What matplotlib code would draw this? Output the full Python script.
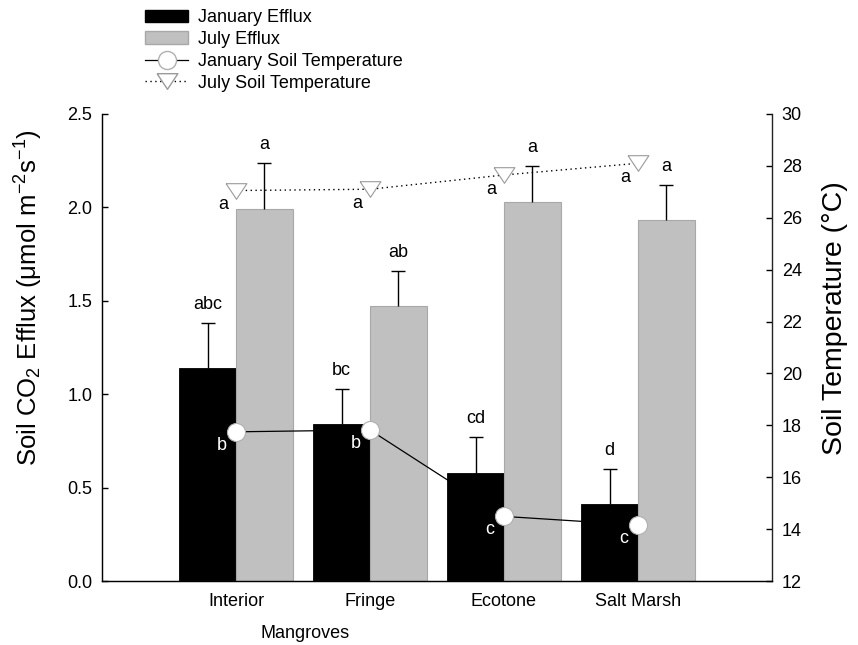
import numpy as np
import matplotlib
matplotlib.use('Agg')
import matplotlib.pyplot as plt
from matplotlib.patches import Patch
from matplotlib.lines import Line2D

plt.rcParams['font.family'] = ['Liberation Sans', 'DejaVu Sans']
plt.rcParams['mathtext.default'] = 'regular'
plt.rcParams['font.size'] = 13

sites = ['Interior', 'Fringe', 'Ecotone', 'Salt Marsh']
jan_efflux = [1.14, 0.84, 0.58, 0.41]
jan_err = [0.24, 0.19, 0.19, 0.19]
jul_efflux = [1.99, 1.47, 2.03, 1.93]
jul_err = [0.25, 0.19, 0.19, 0.19]
jan_temp = [17.75, 17.82, 14.49, 14.16]
jul_temp = [27.05, 27.1, 27.65, 28.1]
jan_letters = ['abc', 'bc', 'cd', 'd']
jul_letters = ['a', 'ab', 'a', 'a']
jan_temp_letters = ['b', 'b', 'c', 'c']
jul_temp_letters = ['a', 'a', 'a', 'a']

gray = '#c0c0c0'
x = np.arange(len(sites))
w = 0.425

fig = plt.figure(figsize=(8.58, 6.45), dpi=100)
ax = fig.add_axes([102/858, 64/645, 670/858, 467/645])

ax.bar(x - w/2, jan_efflux, w, color='black', edgecolor='black', linewidth=0.6, zorder=2)
ax.bar(x + w/2, jul_efflux, w, color=gray, edgecolor='#a8a8a8', linewidth=0.8, zorder=2)
for xs, vals, errs in [(x - w/2, jan_efflux, jan_err), (x + w/2, jul_efflux, jul_err)]:
    eb = ax.errorbar(xs, vals, yerr=[np.zeros(4), errs], fmt='none',
                     ecolor='black', elinewidth=1, capsize=5, capthick=1, zorder=3)
    eb[1][0].set_visible(False)  # no cap at bar top

for i in range(len(sites)):
    ax.annotate(jan_letters[i], (x[i] - w/2, jan_efflux[i] + jan_err[i]),
                xytext=(0, 10), textcoords='offset points', ha='center', va='baseline')
    ax.annotate(jul_letters[i], (x[i] + w/2, jul_efflux[i] + jul_err[i]),
                xytext=(0, 10), textcoords='offset points', ha='center', va='baseline')

ax.set_xlim(-1, 4)
ax.set_ylim(0, 2.5)
ax.set_yticks([0, 0.5, 1.0, 1.5, 2.0, 2.5])
ax.set_yticklabels(['0.0', '0.5', '1.0', '1.5', '2.0', '2.5'])
ax.set_xticks(x)
ax.set_xticklabels(sites)
ax.tick_params(axis='x', length=0, pad=9)
ax.tick_params(axis='y', direction='in', length=4.5, width=1, pad=7)
ax.spines['top'].set_visible(False)
ax.spines['right'].set_visible(False)
for s in ['left', 'bottom']:
    ax.spines[s].set_linewidth(1.0)
    ax.spines[s].set_color('#222222')

ax.set_ylabel('Soil CO$_2$ Efflux (μmol m$^{-2}$s$^{-1}$)', fontsize=18.5)
ax.yaxis.set_label_coords(-0.085, 0.606)
ax.set_xlabel('Mangroves')
ax.xaxis.set_label_coords(0.303, -0.094)

ax2 = ax.twinx()
tri = [(-1, 0.75), (1, 0.75), (0, -0.75), (-1, 0.75)]
ax2.plot(x, jan_temp, color='black', lw=0.9, marker='o', markersize=13,
         markerfacecolor='white', markeredgecolor='#b0b0b0', markeredgewidth=0.8, zorder=4)
ax2.plot(x, jul_temp, color='black', lw=1, linestyle=(0, (1, 2.5)), marker=tri, markersize=15,
         markerfacecolor='white', markeredgecolor='#9a9a9a', markeredgewidth=0.8, zorder=4)

for i in range(len(sites)):
    ax2.annotate(jan_temp_letters[i], (x[i], jan_temp[i]), xytext=(-10, -13),
                 textcoords='offset points', ha='center', va='baseline', color='white')
    ax2.annotate(jul_temp_letters[i], (x[i], jul_temp[i]), xytext=(-9.5, -13.5),
                 textcoords='offset points', ha='center', va='baseline', color='black')

ax2.set_ylim(12, 30)
ax2.set_yticks(np.arange(12, 31, 2))
ax2.tick_params(axis='y', direction='in', length=4.5, width=1, pad=7)
ax2.spines['top'].set_visible(False)
ax2.spines['right'].set_linewidth(1.0)
ax2.spines['right'].set_color('#222222')
ax2.set_ylabel('Soil Temperature (°C)', fontsize=20.5)
ax2.yaxis.set_label_coords(1.0746, 0.563)

handles = [
    Patch(facecolor='black', edgecolor='black'),
    Patch(facecolor=gray, edgecolor='#a8a8a8'),
    Line2D([], [], color='black', lw=0.9, marker='o', markersize=13,
           markerfacecolor='white', markeredgecolor='#b0b0b0'),
    Line2D([], [], color='black', lw=1, linestyle=(0, (1, 2.5)), marker=tri, markersize=15,
           markerfacecolor='white', markeredgecolor='#9a9a9a'),
]
labels = ['January Efflux', 'July Efflux', 'January Soil Temperature', 'July Soil Temperature']
fig.legend(handles, labels, loc='upper left', bbox_to_anchor=(145/858, 1 - 9/645),
           frameon=False, borderaxespad=0, borderpad=0, handlelength=2.4,
           handletextpad=0.55, labelspacing=0.27, handleheight=0.67)

fig.savefig('out.png', dpi=100)
